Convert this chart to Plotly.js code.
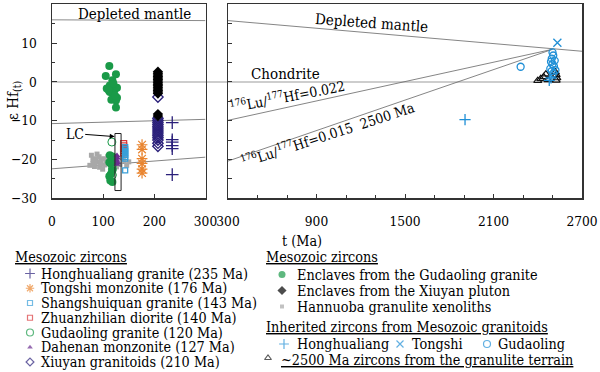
<!DOCTYPE html>
<html><head><meta charset="utf-8">
<script src="https://cdn.plot.ly/plotly-3.0.1.min.js"></script>
<style>html,body{margin:0;padding:0;background:#fff}#chart{width:600px;height:372px}</style>
</head><body><div id="chart"></div>
<script>
const encGudT = [112,125,105,118,113,107,116,122,127,113,119,127,116,125,125,120,111,123, 118,115,118,115,118,119,113,112,112,114];
const encGudE = [4.1,2.0,1.5,0.4,-0.9,-1.7,-1.5,-2.0,-1.5,-2.6,-3.0,-4.1,-4.6,-4.8,-6.6,-0.4,-2.2,-3.5, -19.2,-21.1,-22.8,-23.8,-25.8,-20.3,-18.9,-20.7,-24.3,-25.4];
const encXiuT = [207,207,207,207,207,207,207,207,207,207,207,207,207,207,207,207,207];
const encXiuE = [2.6,2.2,1.8,1.4,1.0,0.6,0.2,-0.2,-0.6,-1.0,-1.4,-1.8,-2.2,-2.6,-3.0,-8.3,-8.8];
const hanT = [77,86,80,90,96,103,93,74,109,83,88,99,140,146,133,80,92,101,106,84,95,113,150,137,126];
const hanE = [-18.9,-19.8,-21.1,-20.7,-20.1,-21.4,-22.0,-21.5,-19.2,-21.8,-18.6,-22.5,-20.3,-21.5,-21.3,-20.0,-19.3,-19.8,-20.8,-20.5,-21.2,-20.2,-20.6,-19.6,-21.9];
const hhlT = [235,235,235,235,235,235];
const hhlE = [-10.5,-14.9,-15.5,-16.4,-17.2,-23.9];
const tsT = [176,176,176,176,176,176];
const tsE = [-16.2,-17.4,-19.8,-21.0,-22.5,-23.5];
const ssqT = [143,143,143,143,143,143,143,143];
const ssqE = [-16.8,-17.3,-17.8,-18.3,-18.8,-19.3,-19.8,-22.8];
const zzlT = [140,140,140,140,140];
const zzlE = [-15.9,-16.5,-17.1,-17.7,-18.3];
const gdlT = [117,118,118,118,118];
const gdlE = [-15.5,-19.5,-21.5,-22.5,-24.0];
const dhnT = [127,128,127,128,127];
const dhnE = [-19.0,-19.6,-20.2,-20.8,-21.2];
const xyT = [207,207,207,207,207,207,207,207,207,207,207,207,207,207,207];
const xyE = [-3.9,-9.4,-9.9,-10.4,-10.9,-11.4,-11.9,-12.4,-12.9,-13.4,-13.9,-14.4,-15.0,-15.8,-16.6];
const inhHhlT = [1907,2478,2490];
const inhHhlE = [-9.7,0.4,1.0];
const inhTsT = [2533];
const inhTsE = [10.1];
const inhGdlT = [2284,2500,2505,2495,2490,2500,2510,2485,2495,2505,2515,2520];
const inhGdlE = [3.9,7.6,6.8,6.0,5.2,4.6,4.0,3.4,2.8,2.2,5.5,3.0];
const grtT = [2400,2420,2440,2455,2470,2525,2530,2525,2520];
const grtE = [0.3,0.8,1.3,2.0,0.5,0.4,1.0,1.8,2.5];
const dmLeftT = [0,300], dmLeftE = [16.0,15.8];
const lu022LeftT = [0,300], lu022LeftE = [-10.75,-9.65];
const lu015LeftT = [0,300], lu015LeftE = [-22.4,-19.4];
const dmRightT = [300,2700], dmRightE = [15.8,7.9];
const lu022RightT = [300,2500], lu022RightE = [-9.9,8.4];
const lu015RightT = [300,2500], lu015RightE = [-20.4,8.4];
const chondriteE = 0;
const lcBoxT = [123,135], lcBoxE = [-13.3,-28];
const leftTicks = [0,100,200,300];
const epsTicks = [-30,-20,-10,0,10,20];

const FONT = 'DejaVu Serif Condensed, DejaVu Serif, serif';
const FS = 14.3;
const TFS = 13.6;
const GREEN = '#1a9a48', NAVY = '#2a1f7a', ORANGE = '#e9842e', LBLUE = '#3a9fd8',
      RED = '#d9383a', PURPLE = '#6b2d90', GREY = '#a8a8a8', BLUE = '#1f8fd6';

const traces = [];
function pts(x, y, sym, color, size, xa, ya, lw) {
  traces.push({x, y, type:'scatter', mode:'markers', xaxis:xa||'x', yaxis:ya||'y', cliponaxis:false,
    marker:{symbol:sym, color:color, size:size, line:{color:color, width:lw===undefined?1:lw}}, hoverinfo:'skip'});
}
function ln(x, y, color, w, xa, ya) {
  traces.push({x, y, type:'scatter', mode:'lines', xaxis:xa||'x', yaxis:ya||'y',
    line:{color:color, width:w}, hoverinfo:'skip'});
}
ln(dmLeftT, dmLeftE, '#8a8a8a', 1);
ln(lu022LeftT, lu022LeftE, '#777', 0.9);
ln(lu015LeftT, lu015LeftE, '#777', 0.9);
ln(dmRightT, dmRightE, '#777', 0.9, 'x2', 'y2');
ln(lu022RightT, lu022RightE, '#666', 0.8, 'x2', 'y2');
ln(lu015RightT, lu015RightE, '#666', 0.8, 'x2', 'y2');

pts(hanT, hanE, 'square', GREY, 5, 'x', 'y', 0);
pts(encGudT, encGudE, 'circle', GREEN, 8, 'x', 'y', 0);
pts(gdlT, gdlE, 'circle-open', GREEN, 8, 'x', 'y', 1);
pts(dhnT, dhnE, 'triangle-up', PURPLE, 6, 'x', 'y', 0);
pts(zzlT, zzlE, 'square-open', RED, 6, 'x', 'y', 1.3);
pts(ssqT, ssqE, 'square-open', LBLUE, 5, 'x', 'y', 1.3);
pts(tsT, tsE, 'asterisk-open', ORANGE, 9, 'x', 'y', 1.2);
pts(xyT, xyE, 'diamond-open', NAVY, 8, 'x', 'y', 1.3);
pts(encXiuT, encXiuE, 'diamond', '#000', 8, 'x', 'y', 0);
pts(hhlT, hhlE, 'cross-thin-open', NAVY, 9, 'x', 'y', 1.3);

pts(grtT, grtE, 'triangle-up-open', '#111', 7, 'x2', 'y2', 1.2);
pts(inhGdlT, inhGdlE, 'circle-open', BLUE, 7, 'x2', 'y2', 1.3);
pts(inhHhlT, inhHhlE, 'cross-thin-open', BLUE, 8, 'x2', 'y2', 1.3);
pts(inhTsT, inhTsE, 'x-thin-open', BLUE, 8, 'x2', 'y2', 1.3);

const legLeftNames = ['Honghualiang granite (235 Ma)','Tongshi monzonite (176 Ma)','Shangshuiquan granite (143 Ma)',
  'Zhuanzhilian diorite (140 Ma)','Gudaoling granite (120 Ma)','Dahenan monzonite (127 Ma)','Xiuyan granitoids (210 Ma)'];
const legLeftSym = ['cross-thin-open','asterisk-open','square-open','square-open','circle-open','triangle-up','diamond-open'];
const legLeftCol = [NAVY, ORANGE, LBLUE, RED, GREEN, PURPLE, NAVY];
const legLeftSize = [7,7,5,5,7,5,6];
const legRightNames = ['Enclaves from the Gudaoling granite','Enclaves from the Xiuyan pluton','Hannuoba granulite xenoliths'];
const legRightSym = ['circle','diamond','square'];
const legRightCol = [GREEN, '#000', GREY];
const legRightSize = [7,7,4];
const legInhNames = ['Honghualiang','Tongshi','Gudaoling'];
const legInhSym = ['cross-thin-open','x-thin-open','circle-open'];

const annotations = [];
function txt(text, px, py, size, opts) {
  annotations.push(Object.assign({text, x:px/600, y:1-py/372, xref:'paper', yref:'paper', showarrow:false,
    font:{family:FONT, size:size, color:'#000'}, xanchor:'center', yanchor:'middle'}, opts||{}));
}
const legX = [], legY = [], legS = [], legC = [], legZ = [], legW = [];
txt('<u>Mesozoic zircons</u>', 13, 257, FS, {xanchor:'left'});
legLeftNames.forEach((n,i) => {
  const y = 273.5 + i*14.75;
  txt(n, 39, y, FS, {xanchor:'left'});
  legX.push(30); legY.push(y); legS.push(legLeftSym[i]); legC.push(legLeftCol[i]); legZ.push(legLeftSize[i]);
  legW.push(legLeftSym[i].indexOf('open')>=0 ? 1.2 : 0);
});
txt('<u>Mesozoic zircons</u>', 264, 257, FS, {xanchor:'left'});
legRightNames.forEach((n,i) => {
  const y = 274.5 + i*16;
  txt(n, 295, y, FS, {xanchor:'left'});
  legX.push(282); legY.push(y); legS.push(legRightSym[i]); legC.push(legRightCol[i]); legZ.push(legRightSize[i]); legW.push(0);
});
txt('<u>Inherited zircons from Mesozoic granitoids</u>', 264, 327, FS, {xanchor:'left'});
const inhSymX = [284, 400, 487], inhTxtX = [295, 410, 496];
legInhNames.forEach((n,i) => {
  txt(n, inhTxtX[i], 344, FS, {xanchor:'left'});
  legX.push(inhSymX[i]); legY.push(344); legS.push(legInhSym[i]); legC.push(BLUE); legZ.push(7); legW.push(1.2);
});
txt('<u>~2500 Ma zircons from the granulite terrain</u>', 279, 360, FS, {xanchor:'left'});
legX.push(268); legY.push(358); legS.push('triangle-up-open'); legC.push('#111'); legZ.push(6); legW.push(1.1);

traces.push({x:legX, y:legY, type:'scatter', mode:'markers', xaxis:'x3', yaxis:'y3', cliponaxis:false, hoverinfo:'skip',
  marker:{symbol:legS, color:legC, size:legZ, line:{color:legC, width:legW}}});

txt('Depleted mantle', 134, 14, 15);
txt('Depleted mantle', 371, 23, 15, {textangle:4});
txt('Chondrite', 285, 74, 15);
txt('<sup>176</sup>Lu/<sup>177</sup>Hf=0.022', 287, 96, 14, {textangle:-11});
txt('<sup>176</sup>Lu/<sup>177</sup>Hf=0.015  2500 Ma', 328, 134, 14, {textangle:-18});
txt('ε Hf<sub>(t)</sub>', 13, 101, 15, {textangle:-90});
txt('t (Ma)', 302, 241, FS);
annotations.push({text:'LC', x:lcBoxT[0]-0.5, y:lcBoxE[0]-0.8, xref:'x', yref:'y', showarrow:true, ax:-40, ay:-3,
  arrowhead:2, arrowsize:1, arrowwidth:1, arrowcolor:'#000', font:{family:FONT, size:14, color:'#000'}});

const shapes = [
  {type:'rect', xref:'x', yref:'y', x0:lcBoxT[0], x1:lcBoxT[1], y0:lcBoxE[0], y1:lcBoxE[1], line:{color:'#222', width:1}},
  {type:'line', xref:'paper', yref:'y', x0:52/600, x1:582/600, y0:chondriteE, y1:chondriteE, line:{color:'#bdbdbd', width:1.5}, layer:'below'}
];

const axBase = {showgrid:false, zeroline:false, showline:true, mirror:true, linecolor:'#333', linewidth:1.5,
  ticks:'inside', tickcolor:'#333', tickfont:{family:FONT, size:TFS, color:'#000'}};
const ydom = [1-198.3/372, 1-4.3/372];
const layout = {
  width:600, height:372, margin:{l:0,r:0,t:0,b:0}, paper_bgcolor:'#fff', plot_bgcolor:'rgba(0,0,0,0)',
  font:{family:FONT, size:FS, color:'#000'},
  showlegend:false, shapes, annotations,
  xaxis: Object.assign({}, axBase, {domain:[52/600, 205.5/600], range:[0,300], tickvals:leftTicks, ticklen:4, ticklabelstandoff:10, anchor:'y'}),
  yaxis: Object.assign({}, axBase, {domain:ydom, range:[-30,20], tickvals:epsTicks, ticklen:5, ticklabelstandoff:11,
    minor:{dtick:5, tick0:0, ticks:'inside', ticklen:3, tickcolor:'#333'}, anchor:'x'}),
  xaxis2: Object.assign({}, axBase, {domain:[228/600, 582/600], range:[300,2700], tick0:300, dtick:600, ticklen:4, ticklabelstandoff:10,
    minor:{dtick:200, tick0:300, ticks:'inside', ticklen:3, tickcolor:'#333'}, anchor:'y2'}),
  yaxis2: Object.assign({}, axBase, {domain:ydom, range:[-30,20], dtick:5, ticklen:4, showticklabels:false, anchor:'x2'}),
  xaxis3: {domain:[0,1], range:[0,600], visible:false, anchor:'y3', fixedrange:true},
  yaxis3: {domain:[0,1], range:[372,0], visible:false, anchor:'x3', fixedrange:true}
};
Plotly.newPlot('chart', traces, layout, {staticPlot:true});
</script></body></html>
